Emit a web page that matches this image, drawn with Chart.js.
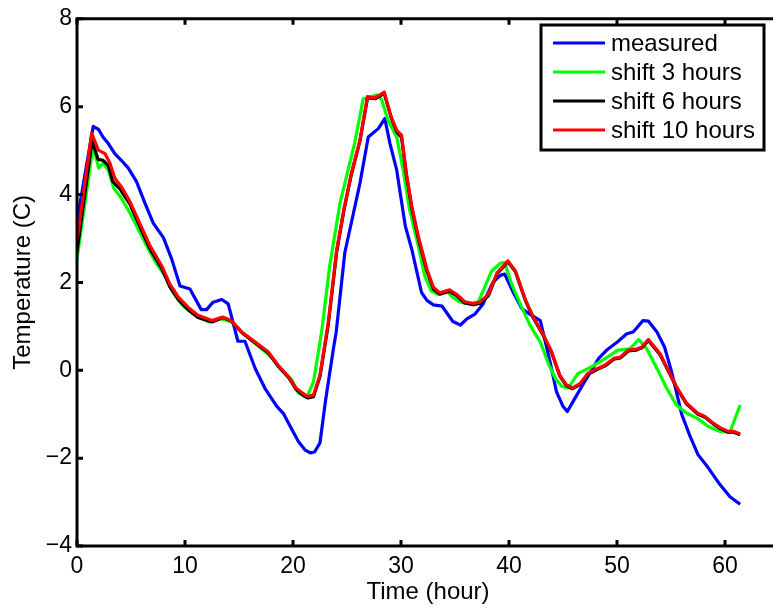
<!DOCTYPE html>
<html>
<head>
<meta charset="utf-8">
<script src="https://cdn.jsdelivr.net/npm/chart.js@4.4.1/dist/chart.umd.min.js"></script>
<style>
  html, body { margin: 0; padding: 0; background: #fff; overflow: hidden; }
  #wrap { width: 860px; height: 610px; }
</style>
</head>
<body>
<div id="wrap"><canvas id="c" width="860" height="610"></canvas></div>
<script>
// ---- data (hours, temperature in C) ----
const seriesLabels = ["measured", "shift 3 hours", "shift 6 hours", "shift 10 hours"];
const seriesColors = ["#0000ff", "#00ff00", "#000000", "#ff0000"];

const measured = [[0,3.4],[1.5,5.55],[2.0,5.48],[2.4,5.31],[2.9,5.16],[3.5,4.93],[4.1,4.78],[4.75,4.6],[5.5,4.3],[6.3,3.8],[7.06,3.35],[8.0,3.02],[8.77,2.53],[9.54,1.92],[10.46,1.85],[11.5,1.38],[12.0,1.38],[12.6,1.55],[13.4,1.61],[14.0,1.51],[14.9,0.66],[15.55,0.66],[16.5,0.04],[17.4,-0.41],[18.5,-0.82],[19.1,-0.98],[19.9,-1.35],[20.5,-1.62],[21.1,-1.81],[21.6,-1.88],[22.0,-1.86],[22.5,-1.65],[23.0,-0.71],[23.74,0.49],[24.0,0.87],[24.8,2.68],[25.6,3.58],[26.2,4.26],[26.97,5.31],[27.9,5.5],[28.5,5.73],[28.98,5.16],[29.6,4.56],[30.4,3.28],[31.0,2.75],[31.9,1.77],[32.4,1.59],[33.0,1.49],[33.8,1.46],[34.2,1.32],[34.8,1.11],[35.5,1.03],[36.1,1.17],[36.85,1.28],[37.6,1.51],[38.5,2.0],[39.2,2.16],[39.6,2.19],[40.4,1.77],[41.2,1.40],[42.1,1.25],[42.9,1.13],[43.8,0.19],[44.4,-0.49],[45.0,-0.82],[45.4,-0.94],[46.1,-0.64],[46.9,-0.3],[47.65,0.0],[48.3,0.27],[49.05,0.46],[49.97,0.63],[50.9,0.83],[51.5,0.87],[52.4,1.13],[52.9,1.12],[53.7,0.87],[54.4,0.53],[55.05,-0.03],[56.0,-1.01],[56.76,-1.5],[57.5,-1.92],[58.45,-2.22],[59.5,-2.59],[60.46,-2.88],[61.4,-3.05]];

const shift3 = [[0,2.53],[1.5,5.12],[2.0,4.6],[2.4,4.71],[2.9,4.56],[3.4,4.15],[4.1,3.92],[4.9,3.58],[5.7,3.2],[6.45,2.83],[7.4,2.41],[8.15,2.15],[8.9,1.77],[9.8,1.47],[10.9,1.26],[12.15,1.1],[13.4,1.17],[14.3,1.1],[15.55,0.8],[17.1,0.49],[18.0,0.3],[18.95,0.0],[19.9,-0.22],[20.5,-0.52],[20.8,-0.56],[21.3,-0.6],[21.9,-0.26],[22.65,0.87],[23.4,2.38],[24.35,3.8],[25.1,4.56],[25.7,5.16],[26.5,6.18],[27.0,6.2],[27.75,6.27],[28.2,6.16],[28.8,5.69],[29.6,5.31],[30.2,4.56],[30.8,3.65],[31.6,2.83],[32.2,2.15],[32.8,1.81],[33.4,1.73],[34.2,1.81],[34.8,1.66],[35.5,1.55],[36.4,1.51],[37.15,1.55],[37.8,1.92],[38.4,2.26],[39.2,2.44],[39.6,2.45],[40.25,1.96],[41.2,1.42],[42.0,1.0],[42.9,0.64],[43.7,0.12],[44.3,-0.19],[44.9,-0.37],[45.5,-0.4],[46.4,-0.07],[47.35,0.04],[48.4,0.19],[49.35,0.34],[50.1,0.46],[51.2,0.49],[52.0,0.7],[52.75,0.49],[53.7,0.04],[54.6,-0.41],[55.5,-0.79],[56.45,-0.98],[57.4,-1.09],[58.45,-1.28],[59.5,-1.39],[60.46,-1.41],[60.9,-1.12],[61.4,-0.79]];

const shift6 = [[0,2.7],[1.4,5.23],[1.95,4.8],[2.4,4.78],[2.9,4.66],[3.3,4.3],[4.0,4.12],[4.9,3.78],[5.8,3.28],[6.76,2.76],[7.84,2.32],[8.6,1.9],[9.4,1.6],[10.3,1.38],[11.2,1.2],[12.5,1.1],[13.5,1.2],[14.3,1.12],[15.25,0.86],[16.5,0.62],[17.7,0.4],[18.6,0.1],[19.6,-0.17],[20.3,-0.44],[21.1,-0.6],[21.4,-0.63],[21.9,-0.6],[22.5,-0.14],[23.27,1.05],[24.05,2.7],[24.7,3.62],[25.4,4.45],[26.2,5.22],[26.9,6.2],[27.6,6.18],[28.45,6.3],[29.1,5.74],[29.6,5.43],[30.05,5.3],[30.5,4.44],[31.0,3.69],[31.6,3.0],[32.4,2.26],[33.0,1.85],[33.6,1.73],[34.5,1.8],[35.15,1.7],[35.9,1.53],[36.7,1.49],[37.3,1.52],[38.1,1.7],[38.9,2.2],[39.5,2.36],[39.9,2.47],[40.6,2.24],[41.5,1.6],[42.25,1.19],[43.2,0.78],[43.95,0.4],[44.7,-0.13],[45.3,-0.35],[45.9,-0.42],[46.6,-0.32],[47.3,-0.09],[48.1,0.01],[48.9,0.1],[49.7,0.25],[50.3,0.28],[51.05,0.44],[51.8,0.46],[52.3,0.51],[52.9,0.68],[53.98,0.36],[54.75,-0.02],[55.5,-0.39],[56.45,-0.77],[57.5,-1.0],[58.15,-1.07],[58.9,-1.22],[59.5,-1.32],[60.3,-1.41],[60.8,-1.41],[61.4,-1.47]];

const shift10 = [[0,2.94],[1.36,5.39],[1.98,5.01],[2.6,4.93],[3.05,4.71],[3.5,4.37],[4.1,4.18],[4.9,3.84],[5.8,3.35],[6.76,2.83],[7.84,2.38],[8.6,1.96],[9.4,1.66],[10.3,1.43],[11.2,1.25],[12.5,1.13],[13.5,1.21],[14.3,1.13],[15.25,0.87],[16.5,0.64],[17.7,0.42],[18.6,0.12],[19.6,-0.15],[20.3,-0.41],[21.1,-0.56],[21.4,-0.6],[21.9,-0.56],[22.5,-0.11],[23.27,1.1],[24.05,2.75],[24.7,3.65],[25.4,4.48],[26.2,5.24],[26.9,6.23],[27.6,6.2],[28.45,6.33],[29.1,5.76],[29.6,5.46],[30.05,5.35],[30.5,4.48],[31.0,3.73],[31.6,3.05],[32.4,2.3],[33.0,1.89],[33.6,1.76],[34.5,1.83],[35.15,1.73],[35.9,1.56],[36.7,1.52],[37.3,1.55],[38.1,1.73],[38.9,2.22],[39.5,2.38],[39.9,2.49],[40.6,2.26],[41.5,1.62],[42.25,1.21],[43.2,0.8],[43.95,0.42],[44.7,-0.11],[45.3,-0.33],[45.9,-0.4],[46.6,-0.3],[47.3,-0.07],[48.1,0.03],[48.9,0.12],[49.7,0.27],[50.3,0.3],[51.05,0.46],[51.8,0.48],[52.3,0.53],[52.9,0.7],[53.98,0.38],[54.75,0.0],[55.5,-0.37],[56.45,-0.75],[57.5,-0.98],[58.15,-1.05],[58.9,-1.2],[59.5,-1.3],[60.3,-1.39],[60.8,-1.39],[61.4,-1.45]];

const xTicks = [0, 10, 20, 30, 40, 50, 60];
const yTicks = [-4, -2, 0, 2, 4, 6, 8];
const xRange = [0, 65];
const yRange = [-4, 8];

// ---- chart ----
const FONT = "'Liberation Sans', Arial, Helvetica, sans-serif";
const allSeries = [measured, shift3, shift6, shift10];
const toXY = arr => arr.map(p => ({x: p[0], y: p[1]}));

const framePlugin = {
  id: 'matlabFrame',
  afterDatasetsDraw(chart) {
    const {ctx, chartArea: a, scales: {x, y}} = chart;
    ctx.save();
    ctx.strokeStyle = '#000';
    ctx.lineWidth = 3;
    ctx.lineCap = 'butt';
    ctx.beginPath();
    ctx.rect(a.left, a.top, a.right - a.left, a.bottom - a.top);
    ctx.stroke();
    const tl = 6;
    ctx.beginPath();
    xTicks.forEach(v => {
      const px = x.getPixelForValue(v);
      ctx.moveTo(px, a.bottom); ctx.lineTo(px, a.bottom - tl);
      ctx.moveTo(px, a.top); ctx.lineTo(px, a.top + tl);
    });
    yTicks.forEach(v => {
      const py = y.getPixelForValue(v);
      ctx.moveTo(a.left, py); ctx.lineTo(a.left + tl, py);
      ctx.moveTo(a.right, py); ctx.lineTo(a.right - tl, py);
    });
    ctx.stroke();
    ctx.restore();
  }
};

const legendPlugin = {
  id: 'boxLegend',
  afterDraw(chart) {
    const {ctx} = chart;
    const bx = 541, by = 25, bw = 223, bh = 125;
    ctx.save();
    ctx.fillStyle = '#fff';
    ctx.fillRect(bx, by, bw, bh);
    ctx.strokeStyle = '#000';
    ctx.lineWidth = 3;
    ctx.strokeRect(bx, by, bw, bh);
    ctx.font = '24px ' + FONT;
    ctx.textBaseline = 'middle';
    ctx.textAlign = 'left';
    chart.data.datasets.forEach((ds, i) => {
      const ry = 43 + i * 29;
      ctx.strokeStyle = ds.borderColor;
      ctx.lineWidth = 3;
      ctx.beginPath();
      ctx.moveTo(553, ry); ctx.lineTo(605, ry);
      ctx.stroke();
      ctx.fillStyle = '#000';
      ctx.fillText(ds.label, 611, ry + 1);
    });
    ctx.restore();
  }
};

new Chart(document.getElementById('c'), {
  type: 'line',
  data: {
    datasets: allSeries.map((s, i) => ({
      label: seriesLabels[i],
      data: toXY(s),
      borderColor: seriesColors[i],
      backgroundColor: seriesColors[i],
      borderWidth: 3.2,
      pointRadius: 0,
      tension: 0,
      fill: false,
      borderJoinStyle: 'round',
      order: allSeries.length - 1 - i
    }))
  },
  options: {
    responsive: false,
    animation: false,
    devicePixelRatio: 1,
    layout: { padding: { left: 0, top: 15, right: 81, bottom: 0 } },
    plugins: { legend: { display: false }, tooltip: { enabled: false } },
    scales: {
      x: {
        type: 'linear',
        min: xRange[0], max: xRange[1],
        afterBuildTicks: s => { s.ticks = xTicks.map(v => ({value: v})); },
        afterFit: s => { s.height = 64; },
        grid: { display: false, drawTicks: false },
        border: { display: false },
        ticks: { color: '#000', font: { family: FONT, size: 23 }, padding: 7, maxRotation: 0, autoSkip: false },
        title: { display: true, text: 'Time (hour)', color: '#000', font: { family: FONT, size: 24 }, padding: { top: 0, bottom: 3 } }
      },
      y: {
        type: 'linear',
        min: yRange[0], max: yRange[1],
        afterBuildTicks: s => { s.ticks = yTicks.map(v => ({value: v})); },
        afterFit: s => { s.width = 77; },
        grid: { display: false, drawTicks: false },
        border: { display: false },
        ticks: { color: '#000', font: { family: FONT, size: 23 }, padding: 5,
                 callback: v => (v < 0 ? '\u2212' + Math.abs(v) : String(v)) },
        title: { display: true, text: 'Temperature (C)', color: '#000', font: { family: FONT, size: 24 }, padding: { top: 9, bottom: 0 } }
      }
    }
  },
  plugins: [framePlugin, legendPlugin]
});
</script>
</body>
</html>
